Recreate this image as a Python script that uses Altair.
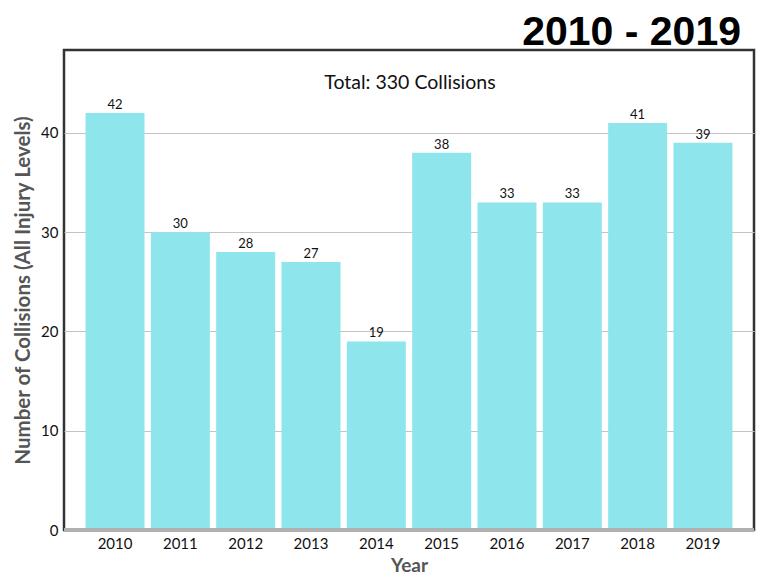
import altair as alt
import pandas as pd

years = ["2010", "2011", "2012", "2013", "2014", "2015", "2016", "2017", "2018", "2019"]
counts = [42, 30, 28, 27, 19, 38, 33, 33, 41, 39]
y_ticks = [0, 10, 20, 30, 40]
title_text = "2010 - 2019"
total_text = "Total: 330 Collisions"

df = pd.DataFrame({"Year": years, "Count": counts})

FONT = "Lato"
W, H = 690, 480

x = alt.X("Year:N", sort=years,
          scale=alt.Scale(paddingInner=0.097, paddingOuter=0.33),
          axis=alt.Axis(title="Year", labelAngle=0, ticks=False, domain=False,
                        labelFont=FONT, labelFontSize=15, labelColor="#111",
                        labelPadding=6, titleFont=FONT, titleFontSize=19,
                        titleFontWeight="bold", titleColor="#555", titlePadding=5))
y = alt.Y("Count:Q", scale=alt.Scale(domain=[0, 48.35], nice=False),
          axis=alt.Axis(title="Number of Collisions (All Injury Levels)", values=y_ticks,
                        ticks=False, domain=False, grid=True, gridColor="#c4c4c4",
                        gridWidth=1, labelFont=FONT, labelFontSize=15,
                        labelColor="#111", labelPadding=6, titleFont=FONT,
                        titleFontSize=20.5, titleFontWeight="bold", titleColor="#555",
                        titlePadding=7))

base = alt.Chart(df)
bars = base.mark_bar(color="#8fe5ec").encode(x=x, y=y)
labels = base.mark_text(baseline="bottom", dy=-1, font=FONT, fontSize=13,
                        color="#111").encode(x=alt.X("Year:N", sort=years), y="Count:Q",
                                             text="Count:Q")
baseline = alt.Chart(pd.DataFrame({"v": [0]})).mark_rule(
    color="#b0b0b0", strokeWidth=4).encode(y="v:Q")
total = alt.Chart(pd.DataFrame({"t": [total_text]})).mark_text(
    font=FONT, fontSize=19.5, color="#111", baseline="middle").encode(
    x=alt.value(W / 2 + 1), y=alt.value(33), text="t:N")
title = alt.Chart(pd.DataFrame({"t": [title_text]})).mark_text(
    font="Liberation Sans", fontSize=41, fontWeight="bold", color="#000",
    align="right", baseline="alphabetic").encode(
    x=alt.value(677), y=alt.value(-5), text="t:N")

chart = alt.layer(bars, labels, baseline, total, title).properties(
    width=W, height=H,
    background="white",
    autosize=alt.AutoSizeParams(type="none"),
    padding={"left": 64, "top": 50, "right": 7, "bottom": 48},
).configure_view(stroke="#333", strokeWidth=2.5)

chart.save("out.html", embed_options={"renderer": "svg", "actions": False})
